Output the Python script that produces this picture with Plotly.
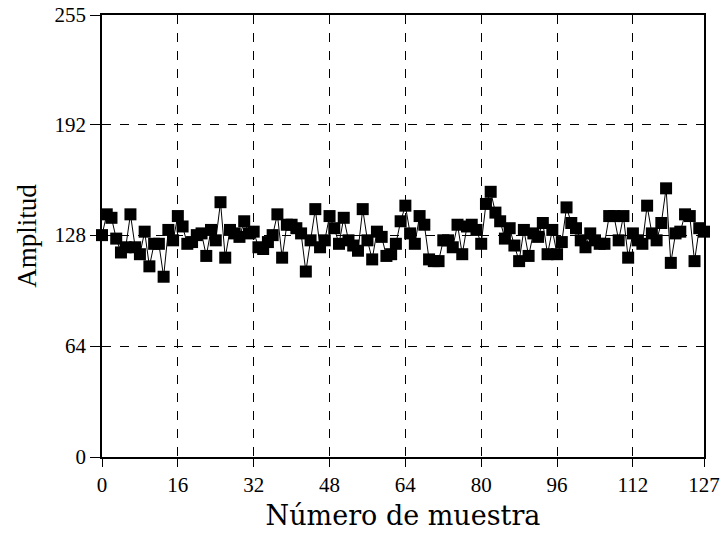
import plotly.graph_objects as go

samples = list(range(128))
amplitude = [
    128, 140, 138, 126, 118, 121, 140, 121, 117, 130,
    110, 123, 123, 104, 131, 125, 139, 133, 123, 124,
    128, 129, 116, 131, 125, 147, 115, 131, 129, 127,
    136, 129, 130, 121, 120, 124, 128, 140, 115, 134,
    134, 132, 129, 107, 125, 143, 121, 125, 139, 132,
    123, 138, 125, 122, 119, 143, 125, 114, 130, 127,
    116, 117, 123, 136, 145, 129, 123, 139, 134, 114,
    113, 113, 125, 125, 121, 134, 117, 133, 134, 131,
    123, 146, 153, 141, 136, 126, 132, 122, 113, 131,
    116, 129, 127, 135, 117, 131, 117, 124, 144, 135,
    132, 125, 121, 129, 125, 123, 123, 139, 139, 125,
    139, 115, 129, 125, 123, 145, 129, 125, 135, 155,
    112, 129, 130, 140, 139, 113, 132, 130,
]
x_ticks = [0, 16, 32, 48, 64, 80, 96, 112, 127]
y_ticks = [0, 64, 128, 192, 255]

font_serif = "Liberation Serif, Times New Roman, serif"
font_title = "DejaVu Serif, serif"

fig = go.Figure()
fig.add_trace(go.Scatter(
    x=samples, y=amplitude, mode="lines+markers",
    line=dict(color="black", width=1),
    marker=dict(symbol="square", size=12, color="black"),
    cliponaxis=False, showlegend=False,
))

fig.update_layout(
    width=726, height=536,
    margin=dict(l=102, r=22, t=15, b=79),
    paper_bgcolor="white", plot_bgcolor="white",
    font=dict(family=font_serif, color="black", size=21),
    xaxis=dict(
        range=[0, 127], tickvals=x_ticks, ticktext=[str(v) for v in x_ticks],
        showgrid=True, gridcolor="black", griddash="dash", gridwidth=1,
        showline=True, linecolor="black", linewidth=1.5, mirror=True,
        ticks="outside", ticklen=8, tickcolor="black", zeroline=False,
        automargin=False,
        title=dict(text="Número de muestra", font=dict(size=27, family=font_title), standoff=10),
    ),
    yaxis=dict(
        range=[0, 255], tickvals=y_ticks, ticktext=[str(v) for v in y_ticks],
        showgrid=True, gridcolor="black", griddash="dash", gridwidth=1,
        showline=True, linecolor="black", linewidth=1.5, mirror=True,
        ticks="outside", ticklen=10, tickcolor="black", zeroline=False,
        automargin=False,
        title=dict(text="Amplitud", font=dict(size=27, family=font_serif), standoff=10),
    ),
)

fig.write_html("out.html")
